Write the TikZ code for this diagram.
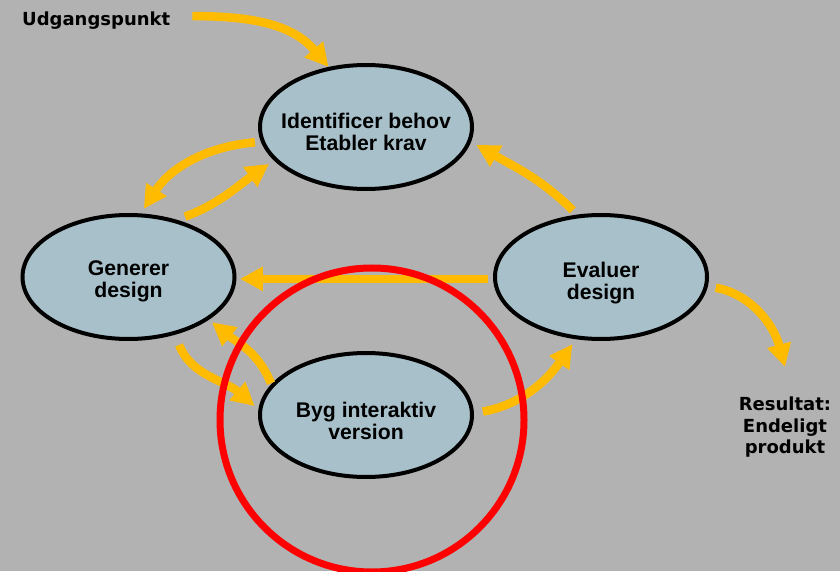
\documentclass[tikz,border=0pt]{standalone}
\usepackage{fontspec}
\setmainfont{Liberation Sans}
\newfontfamily\lblfont{DejaVu Sans}
\usetikzlibrary{arrows.meta,shapes.geometric}
\definecolor{bgc}{RGB}{178,178,178}
\definecolor{fillb}{RGB}{167,192,202}
\definecolor{arrc}{RGB}{255,187,0}
\begin{document}
\begin{tikzpicture}[x=1pt,y=1pt,
  stage/.style={ellipse, draw=black, line width=4pt, fill=fillb,
    minimum width=212pt, minimum height=124pt, inner sep=0pt},
  stagetext/.style={align=center, inner sep=0pt,
    font=\fontsize{21.2}{22}\selectfont\bfseries},
  lbl/.style={align=center, inner sep=0pt,
    font=\lblfont\fontsize{18}{21.5}\selectfont\bfseries},
  flow/.style={draw=arrc, line width=8.5pt, -{Triangle[length=23pt,width=23pt]}},
  ring/.style={draw=red, line width=7pt}
]
\fill[bgc] (0,0) rectangle (840,571);
\useasboundingbox (0,0) rectangle (840,571);
\begin{scope}
\clip (0,0) rectangle (840,571);

\node[stage] (ident) at (366,444) {};
\node[stage] (gen) at (128.5,294) {};
\node[stage] (eval) at (601,294) {};
\node[stage] (byg) at (366,156) {};
\node[stagetext] (identt) at ([yshift=-5pt]ident.center) {Identificer behov\\Etabler krav};
\node[stagetext] (gent) at ([yshift=-4pt]gen.center) {Generer\\design};
\node[stagetext] (evalt) at ([yshift=-6pt]eval.center) {Evaluer\\design};
\node[stagetext] (bygt) at ([yshift=-6pt]byg.center) {Byg interaktiv\\version};

\node[lbl, anchor=base west] (udg) at (22,545) {Udgangspunkt};
\node[lbl, anchor=north] (res) at (785,174) {Resultat:\\Endeligt\\produkt};

\draw[flow] ([xshift=22pt,yshift=5pt]udg.east) to[out=0,in=130] (ident.122);
\draw[flow, shorten <=6pt, shorten >=5.5pt] (ident.188) to[out=185,in=57] (gen.79);
\draw[flow, shorten <=9pt, shorten >=6pt] (gen.50) to[out=20,in=215] (ident.200);
\draw[flow, shorten <=6pt, shorten >=6pt] (eval.111) to[out=135,in=330] (ident.352);
\draw[flow, shorten <=5pt, shorten >=3.5pt] (eval.181) -- (gen.359);
\draw[flow, shorten <=8pt] (eval.355) to[out=350,in=105] ([yshift=30pt]res.north);
\draw[flow, shorten <=9pt, shorten >=6pt] (byg.1) to[out=10,in=235] (eval.248);
\draw[flow, shorten <=11pt, shorten >=5pt] (gen.309) to[out=291,in=139] (byg.177);
\draw[flow, shorten <=1pt, shorten >=4pt] (byg.162) to[out=112,in=321] (gen.332);

\draw[ring] (372,151) circle[radius=152pt];
\end{scope}
\end{tikzpicture}
\end{document}
